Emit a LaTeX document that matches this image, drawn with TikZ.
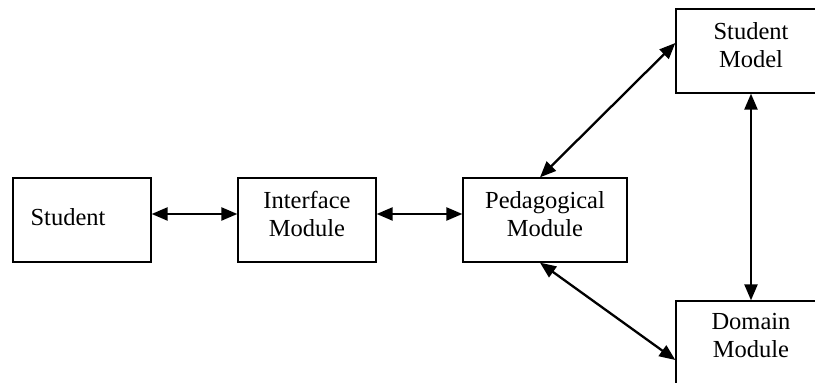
\documentclass[tikz,border=0pt]{standalone}
\usepackage{fontspec}
\setmainfont{Liberation Serif}
\usetikzlibrary{arrows.meta}
\begin{document}
\begin{tikzpicture}[x=0.5pt,y=-0.5pt,
  box/.style={draw, line width=0.65pt, minimum height=42pt, inner sep=0pt},
  lbl/.style={align=center, inner sep=0pt, font=\fontsize{12.25}{14}\selectfont},
  link/.style={line width=1.15pt, {Triangle[length=8pt,width=6.5pt]}-{Triangle[length=8pt,width=6.5pt]}}]
\useasboundingbox (0,0) rectangle (815,383);
\clip (0,0) rectangle (815,383);
\node[box, minimum width=69pt] (stu) at (82,220) {};
\node[box, minimum width=69pt] (int) at (307,220) {};
\node[box, minimum width=82pt] (ped) at (545,220) {};
\node[box, minimum width=75pt] (sm) at (751,51) {};
\node[box, minimum width=75pt] (dom) at (751,343) {};
\node[lbl] (tstu) at (68,217) {Student};
\node[lbl] (tint) at (307,214) {Interface\\Module};
\node[lbl] (tped) at (545,214) {Pedagogical\\Module};
\node[lbl] (tsm) at (751,45) {Student\\Model};
\node[lbl] (tdom) at (751,336) {Domain\\Module};
\draw[link] ([yshift=3pt]stu.east) -- ([yshift=3pt]int.west);
\draw[link] ([yshift=3pt]int.east) -- ([yshift=3pt]ped.west);
\draw[link] ([xshift=-2.5pt]ped.north) -- ([yshift=4pt]sm.west);
\draw[link] ([xshift=-2.5pt]ped.south) -- ([yshift=-8.5pt]dom.west);
\draw[link] (sm.south) -- (dom.north);
\end{tikzpicture}
\end{document}
